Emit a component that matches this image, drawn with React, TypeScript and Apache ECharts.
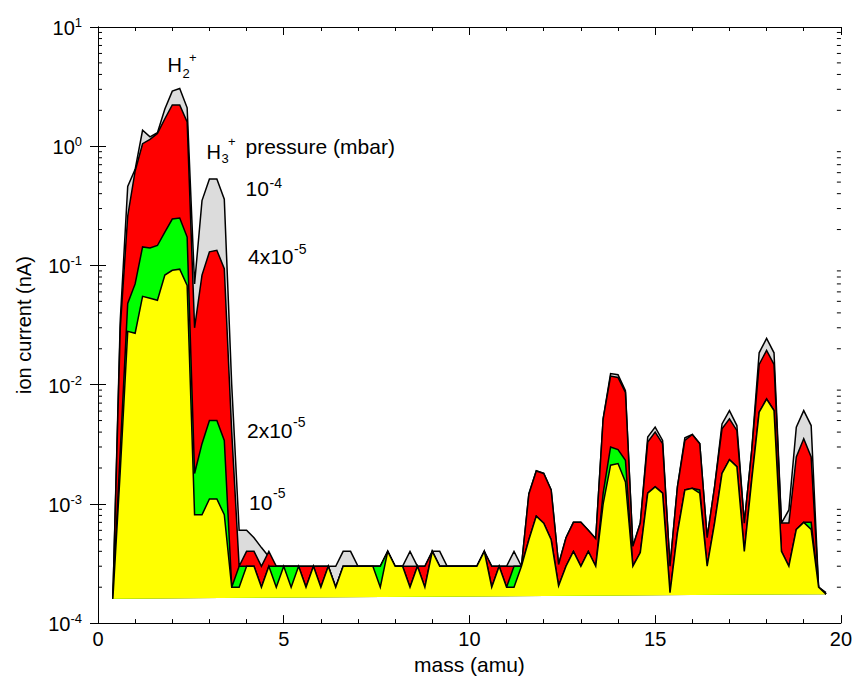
import React, { useEffect, useRef } from "react";
import * as echarts from "echarts";

// mass axis sample positions (amu)
const massAmu = [
  0.4, 0.6, 0.8, 1.0, 1.2, 1.4, 1.6, 1.8, 2.0, 2.2,
  2.4, 2.6, 2.8, 3.0, 3.2, 3.4, 3.6, 3.8, 4.0, 4.2,
  4.4, 4.6, 4.8, 5.0, 5.2, 5.4, 5.6, 5.8, 6.0, 6.2,
  6.4, 6.6, 6.8, 7.0, 7.2, 7.4, 7.6, 7.8, 8.0, 8.2,
  8.4, 8.6, 8.8, 9.0, 9.2, 9.4, 9.6, 9.8, 10.0, 10.2,
  10.4, 10.6, 10.8, 11.0, 11.2, 11.4, 11.6, 11.8, 12.0, 12.2,
  12.4, 12.6, 12.8, 13.0, 13.2, 13.4, 13.6, 13.8, 14.0, 14.2,
  14.4, 14.6, 14.8, 15.0, 15.2, 15.4, 15.6, 15.8, 16.0, 16.2,
  16.4, 16.6, 16.8, 17.0, 17.2, 17.4, 17.6, 17.8, 18.0, 18.2,
  18.4, 18.6, 18.8, 19.0, 19.2, 19.4, 19.6,
];

// ion current (nA) at 1e-4 mbar (grey)
const current1e4 = [
  1.6e-4, 0.035, 0.46, 0.64, 1.36, 1.2, 1.3, 2.05, 2.9, 3.05,
  2.1, 0.07, 0.35, 0.53, 0.53, 0.36, 0.01, 6e-4, 6e-4, 5.2e-4,
  4.3e-4, 3.6e-4, 3e-4, 3e-4, 3e-4, 3e-4, 3e-4, 3e-4, 3e-4, 3e-4,
  3e-4, 4e-4, 4e-4, 3e-4, 3e-4, 3e-4, 3e-4, 4e-4, 3e-4, 3e-4,
  4e-4, 3e-4, 3e-4, 4e-4, 4e-4, 3e-4, 3e-4, 3e-4, 3e-4, 3e-4,
  4e-4, 3e-4, 3e-4, 3e-4, 4e-4, 3e-4, 1.21e-3, 1.9e-3, 1.8e-3, 1.31e-3,
  3.1e-4, 5.2e-4, 7.0e-4, 7.0e-4, 6.0e-4, 5.1e-4, 5.16e-3, 0.0124, 0.0121, 8.9e-3,
  4.4e-4, 6.9e-4, 3.63e-3, 4.4e-3, 3.41e-3, 3.0e-4, 1.39e-3, 3.59e-3, 3.82e-3, 3.2e-3,
  5.2e-4, 1.39e-3, 4.69e-3, 6.06e-3, 4.54e-3, 6.9e-4, 2.81e-3, 0.0185, 0.0244, 0.0185,
  6.9e-4, 8.9e-4, 4.4e-3, 6.06e-3, 4.54e-3, 2.0e-4, 1.8e-4,
];

// ion current (nA) at 4e-5 mbar (red)
const current4e5 = [
  1.6e-4, 0.03, 0.26, 0.62, 1.05, 1.14, 1.28, 1.7, 2.22, 2.22,
  1.6, 0.03, 0.083, 0.13, 0.134, 0.094, 4e-3, 3e-4, 4e-4, 4e-4,
  3e-4, 4e-4, 3e-4, 3e-4, 3e-4, 3e-4, 3e-4, 3e-4, 3e-4, 3e-4,
  2e-4, 3e-4, 3e-4, 3e-4, 3e-4, 3e-4, 3e-4, 4e-4, 3e-4, 3e-4,
  3e-4, 3e-4, 3e-4, 4e-4, 3e-4, 3e-4, 3e-4, 3e-4, 3e-4, 3e-4,
  4e-4, 3e-4, 3e-4, 3e-4, 3e-4, 3e-4, 1.21e-3, 1.89e-3, 1.8e-3, 1.31e-3,
  3.1e-4, 5.2e-4, 7.0e-4, 7.0e-4, 6.0e-4, 5.1e-4, 5.16e-3, 0.0118, 0.0115, 8.6e-3,
  4.4e-4, 6.9e-4, 3.3e-3, 4.0e-3, 3.2e-3, 3.0e-4, 1.39e-3, 3.41e-3, 3.82e-3, 3.2e-3,
  5.2e-4, 1.39e-3, 4.26e-3, 5.16e-3, 4.13e-3, 6.9e-4, 2.81e-3, 0.0148, 0.0194, 0.0148,
  6.9e-4, 6.9e-4, 2.48e-3, 3.52e-3, 2.48e-3, 2.0e-4, 1.75e-4,
];

// ion current (nA) at 2e-5 mbar (green)
const current2e5 = [
  1.6e-4, 2.8e-3, 0.048, 0.07, 0.143, 0.14, 0.147, 0.19, 0.245, 0.25,
  0.173, 1.8e-3, 3.2e-3, 5.0e-3, 5.0e-3, 3.4e-3, 2e-4, 3e-4, 3e-4, 3e-4,
  2e-4, 3e-4, 3e-4, 3e-4, 3e-4, 3e-4, 2e-4, 3e-4, 2e-4, 3e-4,
  2e-4, 3e-4, 3e-4, 3e-4, 3e-4, 3e-4, 3e-4, 4e-4, 3e-4, 3e-4,
  2e-4, 3e-4, 2e-4, 4e-4, 3e-4, 3e-4, 3e-4, 3e-4, 3e-4, 3e-4,
  4e-4, 2e-4, 3e-4, 2e-4, 3e-4, 3e-4, 5.0e-4, 7.9e-4, 6.9e-4, 5.0e-4,
  2.05e-4, 3.0e-4, 4.0e-4, 3.0e-4, 4.0e-4, 3.0e-4, 1.23e-3, 3.0e-3, 2.85e-3, 2.32e-3,
  3.0e-4, 3.9e-4, 1.23e-3, 1.39e-3, 1.23e-3, 1.8e-4, 5.7e-4, 1.31e-3, 1.35e-3, 1.31e-3,
  3.0e-4, 6.9e-4, 1.8e-3, 2.35e-3, 2.05e-3, 4.0e-4, 1.58e-3, 5.87e-3, 7.57e-3, 6.06e-3,
  4.0e-4, 3.0e-4, 6.1e-4, 7.0e-4, 7.0e-4, 2.0e-4, 1.75e-4,
];

// ion current (nA) at 1e-5 mbar (yellow)
const current1e5 = [
  1.6e-4, 1.9e-3, 0.028, 0.027, 0.055, 0.053, 0.051, 0.083, 0.091, 0.093,
  0.068, 8.1e-4, 8.1e-4, 1.1e-3, 1.1e-3, 8.1e-4, 2e-4, 2e-4, 3e-4, 3e-4,
  2e-4, 3e-4, 2e-4, 3e-4, 2e-4, 3e-4, 2e-4, 3e-4, 2e-4, 3e-4,
  2e-4, 3e-4, 3e-4, 3e-4, 3e-4, 3e-4, 2e-4, 4e-4, 3e-4, 3e-4,
  2e-4, 3e-4, 2e-4, 4e-4, 3e-4, 3e-4, 3e-4, 3e-4, 3e-4, 3e-4,
  4e-4, 2e-4, 3e-4, 2e-4, 2e-4, 3e-4, 5.0e-4, 7.9e-4, 6.9e-4, 5.0e-4,
  2.05e-4, 3.0e-4, 4.0e-4, 3.0e-4, 4.0e-4, 3.0e-4, 1.0e-3, 2.11e-3, 2.18e-3, 1.53e-3,
  3.0e-4, 3.9e-4, 1.23e-3, 1.39e-3, 1.23e-3, 1.8e-4, 5.7e-4, 1.31e-3, 1.35e-3, 1.23e-3,
  3.0e-4, 6.9e-4, 1.8e-3, 2.35e-3, 2.05e-3, 4.0e-4, 1.58e-3, 5.87e-3, 7.57e-3, 6.06e-3,
  4.0e-4, 3.0e-4, 6.1e-4, 7.0e-4, 6.1e-4, 2.0e-4, 1.75e-4,
];

const pressureLevels = ["1e-4", "4e-5", "2e-5", "1e-5"];
const levelColors = ["#dcdcdc", "#ff0000", "#00ff00", "#ffff00"];
const levelValues = [current1e4, current4e5, current2e5, current1e5];

const FONT = '"Liberation Sans", Arial, Helvetica, sans-serif';

// minor ticks of the log axis (2..9 x 10^n)
const minorTickValues: number[] = [];
for (let e = -4; e < 1; e++) {
  for (let m = 2; m <= 9; m++) minorTickValues.push(m * Math.pow(10, e));
}

function txt(text: string, x: number, y: number, size: number) {
  return {
    type: "text",
    x,
    y,
    silent: true,
    style: {
      text,
      fill: "#000",
      fontSize: size,
      fontFamily: FONT,
      align: "left",
      verticalAlign: "middle",
      textAlign: "left",
      textVerticalAlign: "middle",
    },
  };
}

export default function App() {
  const ref = useRef<HTMLDivElement>(null);

  useEffect(() => {
    if (!ref.current) return;
    const chart = echarts.init(ref.current, undefined, { renderer: "svg" });

    const areaSeries = levelValues.map((vals, si) => ({
      type: "custom",
      name: pressureLevels[si] + " mbar",
      coordinateSystem: "cartesian2d",
      xAxisIndex: 0,
      yAxisIndex: 0,
      z: 2 + si,
      silent: true,
      data: massAmu.map((m, i) => [m, vals[i]]),
      renderItem: (params: any, api: any) => {
        if (params.dataIndex !== 0) return null;
        const pts = massAmu.map((m, i) => api.coord([m, vals[i]]));
        return {
          type: "group",
          children: [
            {
              type: "polygon",
              shape: { points: pts },
              style: { fill: levelColors[si], stroke: "none" },
            },
            {
              type: "polyline",
              shape: { points: pts },
              style: {
                fill: "none",
                stroke: "#000",
                lineWidth: 1.5,
                lineJoin: "miter",
              },
            },
          ],
        };
      },
    }));

    const minorTickSeries = {
      type: "custom",
      coordinateSystem: "cartesian2d",
      xAxisIndex: 0,
      yAxisIndex: 0,
      silent: true,
      z: 10,
      data: minorTickValues.map((v) => [0, v]),
      renderItem: (params: any, api: any) => {
        const v = api.value(1);
        const l = api.coord([0, v]);
        const r = api.coord([20, v]);
        return {
          type: "group",
          children: [
            {
              type: "line",
              shape: { x1: l[0], y1: l[1], x2: l[0] + 4, y2: l[1] },
              style: { stroke: "#000", lineWidth: 1 },
            },
            {
              type: "line",
              shape: { x1: r[0] - 4, y1: r[1], x2: r[0], y2: r[1] },
              style: { stroke: "#000", lineWidth: 1 },
            },
          ],
        };
      },
    };

    const axisLine = { show: true, lineStyle: { color: "#000", width: 1 } };
    const xCommon = {
      type: "value",
      min: 0,
      max: 20,
      interval: 5,
      axisLine,
      axisTick: { show: true, inside: true, length: 8, lineStyle: { color: "#000" } },
      minorTick: { show: true, splitNumber: 5, length: 4, lineStyle: { color: "#000" } },
      splitLine: { show: false },
      minorSplitLine: { show: false },
    };
    const yCommon = {
      type: "log",
      logBase: 10,
      min: 1e-4,
      max: 10,
      axisLine,
      axisTick: { show: true, inside: true, length: 8, lineStyle: { color: "#000" } },
      splitLine: { show: false },
    };

    const option: any = {
      animation: false,
      backgroundColor: "#fff",
      grid: { left: 98, top: 27, width: 745, height: 600, containLabel: false },
      xAxis: [
        {
          ...xCommon,
          position: "bottom",
          name: "mass (amu)",
          nameLocation: "middle",
          nameGap: 30,
          nameTextStyle: { color: "#000", fontSize: 21, fontFamily: FONT },
          axisLabel: { color: "#000", fontSize: 20, fontFamily: FONT, margin: 6 },
        },
        {
          ...xCommon,
          position: "top",
          axisLabel: { show: false },
        },
      ],
      yAxis: [
        {
          ...yCommon,
          position: "left",
          name: "ion current (nA)",
          nameLocation: "middle",
          nameRotate: 90,
          nameGap: 64,
          nameTextStyle: { color: "#000", fontSize: 20, fontFamily: FONT },
          axisLabel: {
            margin: 16,
            formatter: (v: number) => {
              const e = Math.round(Math.log10(v));
              return "{b|10}{s|" + e + "}";
            },
            rich: {
              b: { fontSize: 20, fontFamily: FONT, color: "#000", verticalAlign: "bottom" },
              s: {
                fontSize: 13,
                fontFamily: FONT,
                color: "#000",
                verticalAlign: "bottom",
                padding: [0, 0, 9, 0],
              },
            },
          },
        },
        {
          ...yCommon,
          position: "right",
          axisLabel: { show: false },
        },
      ],
      graphic: [
        txt("H", 167.5, 64.5, 20),
        txt("2", 182.5, 73, 13),
        txt("+", 189, 57.5, 13),
        txt("H", 206.5, 151.5, 20),
        txt("3", 221.5, 158, 13),
        txt("+", 228, 141, 13),
        txt("pressure (mbar)", 245.5, 146, 21),
        txt("10", 245.5, 188.8, 21),
        txt("-4", 269.5, 182.5, 14),
        txt("4x10", 248, 256.7, 21),
        txt("-5", 294, 248.5, 14),
        txt("2x10", 247, 430.5, 21),
        txt("-5", 293, 421.5, 14),
        txt("10", 249, 502, 21),
        txt("-5", 273, 492.5, 14),
      ],
      series: [...areaSeries, minorTickSeries],
    };

    chart.setOption(option);
    return () => chart.dispose();
  }, []);

  return (
    <div
      ref={ref}
      style={{ position: "absolute", left: 0, top: 0, width: 855, height: 680, background: "#fff" }}
    />
  );
}
